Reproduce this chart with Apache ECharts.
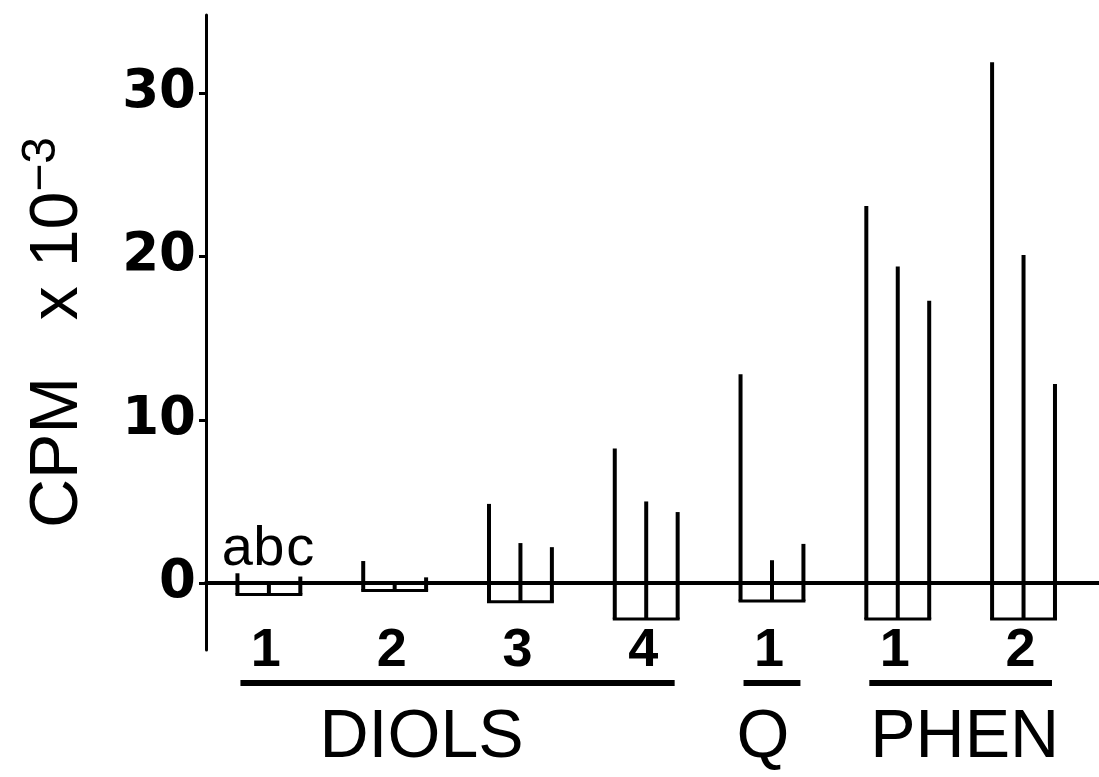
<!DOCTYPE html>
<html><head><meta charset="utf-8">
<script src="https://cdn.jsdelivr.net/npm/echarts@6/dist/echarts.min.js"></script>
<style>html,body{margin:0;padding:0;background:#fff}#c{width:1099px;height:777px}</style>
</head><body><div id="c"></div>
<script>
// ---- data ----
const groupLabels = ['1', '2', '3', '4', '1', '1', '2'];
const valuesA = [0.6, 1.35, 4.85, 8.25, 12.8, 23.1, 31.9];
const valuesB = [0.1, 0.0, 2.45, 5.0, 1.4, 19.4, 20.1];
const valuesC = [0.4, 0.35, 2.2, 4.35, 2.4, 17.3, 12.2];
const baseValues = [-0.7, -0.45, -1.15, -2.2, -1.1, -2.2, -2.2];
const columnLetters = ['a', 'b', 'c'];
const classNames = ['DIOLS', 'Q', 'PHEN'];
const classFirstGroup = [0, 4, 5];
const classLastGroup = [3, 4, 6];
const yTicks = [0, 10, 20, 30];
const yAxisTitle = 'CPM   x 10';
const yAxisExponent = '\u22123';

// ---- layout / style (not data) ----
const SLOTS = 4;            // 3 columns + 1 gap per group
const classNameShift = [-36, -9, 4];
const FONT = 'Liberation Sans, Arial, Helvetica, sans-serif';

const combData = groupLabels.map((_, g) => [g, valuesA[g], valuesB[g], valuesC[g], baseValues[g]]);
const classData = classNames.map((n, i) => [classFirstGroup[i], classLastGroup[i], i]);

const chart = echarts.init(document.getElementById('c'), null, {renderer: 'canvas'});
chart.setOption({
  animation: false,
  backgroundColor: '#fff',
  grid: {left: 206, right: 0, top: 15, bottom: 127, containLabel: false},
  xAxis: {
    type: 'value', min: -1, max: 27.4,
    axisLine: {show: true, onZero: true, lineStyle: {color: '#000', width: 4}},
    axisTick: {show: false},
    splitLine: {show: false},
    axisLabel: {show: false}
  },
  yAxis: {
    type: 'value', min: -4.1, max: 34.8,
    axisLine: {show: true, onZero: false, lineStyle: {color: '#000', width: 3}},
    axisTick: {show: true, customValues: yTicks, length: 7, lineStyle: {color: '#000', width: 3}},
    splitLine: {show: false},
    axisLabel: {customValues: yTicks, margin: 10, fontSize: 53, fontWeight: 'bold',
      fontFamily: 'DejaVu Sans, sans-serif', color: '#000'},
    name: '{m|' + yAxisTitle + '}{s|' + yAxisExponent + '}',
    nameLocation: 'middle', nameRotate: 90, nameGap: 108,
    nameTextStyle: {
      rich: {
        m: {fontSize: 68, fontFamily: FONT, color: '#000', lineHeight: 80, verticalAlign: 'middle'},
        s: {fontSize: 48, fontFamily: FONT, color: '#000', verticalAlign: 'top', lineHeight: 30}
      }
    }
  },
  series: [
    {
      type: 'custom',
      data: combData,
      encode: {x: 0, y: [1, 2, 3, 4]},
      clip: false,
      renderItem: (params, api) => {
        const g = api.value(0);
        const vals = [api.value(1), api.value(2), api.value(3)];
        const base = api.value(4);
        const y0 = api.coord([0, 0])[1];
        const yBase = api.coord([0, base])[1];
        const xs = [0, 1, 2].map(j => api.coord([g * SLOTS + j, 0])[0]);
        const children = [];
        vals.forEach((v, j) => {
          const yTop = Math.min(api.coord([0, v])[1], y0);
          children.push({type: 'line', shape: {x1: xs[j], y1: yTop, x2: xs[j], y2: yBase},
            style: {stroke: '#000', lineWidth: 4}});
        });
        children.push({type: 'line', shape: {x1: xs[0] - 2, y1: yBase, x2: xs[2] + 2, y2: yBase},
          style: {stroke: '#000', lineWidth: 3}});
        children.push({type: 'text', x: xs[1] - 3, y: y0 + 68,
          style: {text: groupLabels[g], fill: '#000', font: 'bold 54px ' + FONT, align: 'center', verticalAlign: 'middle'}});
        if (g === 0) {
          columnLetters.forEach((L, j) => {
            children.push({type: 'text', x: xs[j], y: y0 - 6,
              style: {text: L, fill: '#000', font: '56px ' + FONT, align: 'center', verticalAlign: 'bottom'}});
          });
        }
        return {type: 'group', children};
      }
    },
    {
      type: 'custom',
      data: classData,
      encode: {x: [0, 1]},
      clip: false,
      silent: true,
      renderItem: (params, api) => {
        const first = api.value(0), last = api.value(1), i = api.value(2);
        const y0 = api.coord([0, 0])[1];
        const x1 = api.coord([first * SLOTS, 0])[0] + 3;
        const x2 = api.coord([last * SLOTS + 2, 0])[0] - 3;
        return {type: 'group', children: [
          {type: 'line', shape: {x1, y1: y0 + 100, x2, y2: y0 + 100}, style: {stroke: '#000', lineWidth: 6}},
          {type: 'text', x: (x1 + x2) / 2 + classNameShift[i], y: y0 + 155,
            style: {text: classNames[i], fill: '#000', font: '68px ' + FONT, align: 'center', verticalAlign: 'middle'}}
        ]};
      }
    }
  ]
});
</script></body></html>
